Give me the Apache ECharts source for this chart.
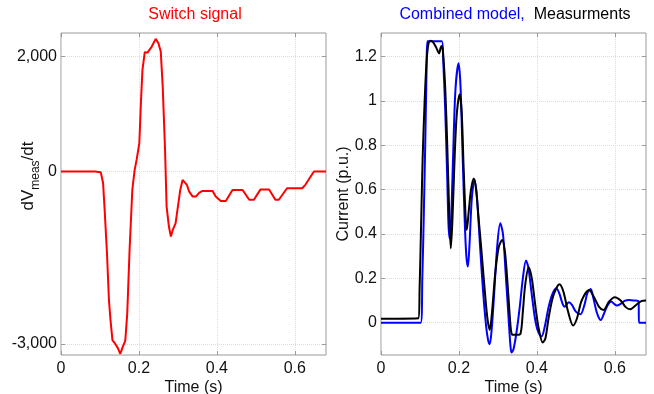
<!DOCTYPE html>
<html>
<head>
<meta charset="utf-8">
<script src="https://cdn.jsdelivr.net/npm/echarts@6/dist/echarts.min.js"></script>
<style>
html, body { margin: 0; padding: 0; background: #fff; }
#main { width: 654px; height: 394px; }
</style>
</head>
<body>
<div id="main"></div>
<script>
// tick values
var timeTicks = [0, 0.2, 0.4, 0.6];
var dvTicks = [-3000, 0, 2000];
var currentTicks = [0, 0.2, 0.4, 0.6, 0.8, 1, 1.2];

// switch signal dV/dt  [t, value]
var switchSignal = [
	[0, 0], [0.087, 0], [0.092, -10], [0.102, -12], [0.108, -200], [0.112, -667], [0.118, -1420],
	[0.123, -2230], [0.127, -2580], [0.132, -2930], [0.138, -2985], [0.146, -3070], [0.152, -3170],
	[0.159, -3040], [0.165, -2940], [0.17, -2465], [0.176, -1360], [0.183, -320], [0.189, 30],
	[0.194, 203], [0.201, 494], [0.205, 1190], [0.209, 1770], [0.215, 2076], [0.218, 2087],
	[0.222, 2070], [0.226, 2059], [0.233, 2174], [0.243, 2308], [0.25, 2230], [0.256, 2087],
	[0.261, 1480], [0.267, 380], [0.271, -610], [0.277, -960], [0.282, -1130], [0.287, -1010],
	[0.294, -900], [0.3, -610], [0.306, -320], [0.312, -145], [0.317, -145], [0.323, -230],
	[0.329, -350], [0.338, -435], [0.346, -435], [0.355, -365], [0.363, -336], [0.389, -336],
	[0.397, -435], [0.41, -510], [0.423, -510], [0.44, -320], [0.466, -320], [0.483, -490],
	[0.495, -490], [0.512, -310], [0.534, -310], [0.55, -490], [0.559, -490], [0.58, -290],
	[0.619, -290], [0.627, -230], [0.649, 0], [0.68, 0]
];

// combined model current (p.u.)
var modelCurrent = [
	[0, 0], [0.102, 0], [0.106, 0.2], [0.11, 0.5], [0.114, 0.85], [0.117, 1.15], [0.119, 1.27],
	[0.156, 1.27], [0.16, 1.17], [0.165, 0.95], [0.17, 0.65], [0.173, 0.45], [0.176, 0.38],
	[0.18, 0.47], [0.185, 0.75], [0.191, 1.05], [0.199, 1.17], [0.204, 1.07], [0.209, 0.78],
	[0.215, 0.45], [0.219, 0.3], [0.223, 0.253], [0.227, 0.35], [0.233, 0.56], [0.24, 0.645],
	[0.246, 0.57], [0.254, 0.35], [0.262, 0.14], [0.27, -0.02], [0.275, -0.08], [0.279, -0.097],
	[0.284, -0.03], [0.29, 0.12], [0.298, 0.34], [0.306, 0.448], [0.313, 0.4], [0.32, 0.22],
	[0.327, 0.03], [0.332, -0.1], [0.335, -0.135], [0.34, -0.12], [0.348, -0.04], [0.356, 0.07],
	[0.364, 0.2], [0.372, 0.28], [0.378, 0.25], [0.386, 0.14], [0.395, 0.02], [0.403, -0.04],
	[0.412, -0.063], [0.42, -0.02], [0.43, 0.07], [0.44, 0.13], [0.45, 0.155], [0.458, 0.13],
	[0.465, 0.09], [0.471, 0.072], [0.482, 0.092], [0.49, 0.08], [0.5, 0.05], [0.512, 0.038],
	[0.522, 0.08], [0.53, 0.135], [0.538, 0.152], [0.545, 0.11], [0.553, 0.05], [0.56, 0.018],
	[0.564, 0.012], [0.572, 0.04], [0.582, 0.08], [0.591, 0.095], [0.598, 0.085], [0.605, 0.077],
	[0.615, 0.085], [0.625, 0.098], [0.637, 0.102], [0.648, 0.1], [0.661, 0.096], [0.662, 0],
	[0.68, 0]
];

// measured current (p.u.)
var measCurrent = [
	[0, 0.018], [0.096, 0.02], [0.099, 0.15], [0.103, 0.45], [0.107, 0.75], [0.112, 1.0],
	[0.117, 1.18], [0.122, 1.26], [0.127, 1.272], [0.134, 1.265], [0.142, 1.24], [0.149, 1.215],
	[0.153, 1.24], [0.156, 1.248], [0.16, 1.2], [0.165, 1.05], [0.17, 0.8], [0.175, 0.5],
	[0.179, 0.335], [0.183, 0.45], [0.188, 0.7], [0.194, 0.93], [0.2015, 1.03], [0.207, 0.95],
	[0.212, 0.7], [0.217, 0.48], [0.22, 0.418], [0.225, 0.5], [0.231, 0.6], [0.238, 0.651],
	[0.244, 0.6], [0.25, 0.48], [0.258, 0.32], [0.266, 0.15], [0.273, 0.02], [0.279, -0.033],
	[0.285, 0.05], [0.293, 0.22], [0.302, 0.34], [0.311, 0.373], [0.318, 0.32], [0.325, 0.17],
	[0.33, 0.04], [0.334, -0.04], [0.338, -0.055], [0.348, -0.055], [0.358, -0.05], [0.364, 0.05],
	[0.37, 0.17], [0.379, 0.25], [0.387, 0.2], [0.395, 0.09], [0.404, -0.02], [0.415, -0.09],
	[0.422, -0.07], [0.43, 0.02], [0.442, 0.12], [0.458, 0.173], [0.468, 0.14], [0.48, 0.05],
	[0.493, -0.013], [0.503, 0.02], [0.515, 0.1], [0.534, 0.147], [0.548, 0.11], [0.56, 0.07],
	[0.571, 0.057], [0.585, 0.095], [0.6, 0.115], [0.615, 0.1], [0.628, 0.07], [0.639, 0.06],
	[0.655, 0.08], [0.668, 0.097], [0.68, 0.1]
];

var font = 'Liberation Sans, Arial, sans-serif';
var boxColor = '#9a9a9a';
var gridLine = { show: true, lineStyle: { color: '#dcdcdc', type: 'dotted', width: 1 } };

function thousands(v) {
	var s = String(Math.abs(v)).replace(/\B(?=(\d{3})+(?!\d))/g, ',');
	return (v < 0 ? '-' : '') + s;
}

function xAxisOf(grid, top) {
	return {
		type: 'value', gridIndex: grid, position: top ? 'top' : 'bottom',
		min: 0, max: 0.68,
		axisLine: { show: false, onZero: false },
		axisTick: { show: true, inside: true, length: 4, customValues: timeTicks, lineStyle: { color: boxColor } },
		axisLabel: { show: !top, customValues: timeTicks, margin: 6, fontSize: 16, color: '#111', fontFamily: font },
		splitLine: top ? { show: false } : gridLine,
		name: top ? '' : 'Time (s)', nameLocation: 'middle', nameGap: 25, nameMoveOverlap: false,
		nameTextStyle: { fontSize: 16, color: '#111', fontFamily: font }
	};
}

function yAxisOf(grid, right, min, max, ticks, fmt) {
	return {
		type: 'value', gridIndex: grid, position: right ? 'right' : 'left',
		min: min, max: max,
		axisLine: { show: false, onZero: false },
		axisTick: { show: true, inside: true, length: 4, customValues: ticks, lineStyle: { color: boxColor } },
		axisLabel: { show: !right, customValues: ticks, margin: 4, fontSize: 16, color: '#111', fontFamily: font, formatter: fmt },
		splitLine: right ? { show: false } : gridLine
	};
}

var chart = echarts.init(document.getElementById('main'));
var yCur = yAxisOf(1, false, -0.146, 1.307, currentTicks);
yCur.name = 'Current (p.u.)';
yCur.nameLocation = 'middle';
yCur.nameGap = 29;
yCur.nameMoveOverlap = false;
yCur.nameTextStyle = { fontSize: 16, color: '#111', fontFamily: font };

chart.setOption({
	animation: false,
	title: [{
		text: 'Switch signal', left: 195, top: 7, textAlign: 'center', padding: 0,
		textStyle: { color: '#ff0000', fontSize: 16, fontWeight: 'normal', fontFamily: font }
	}, {
		text: '{b|Combined model,}  {k|Measurments}', left: 515, top: 7, textAlign: 'center', padding: 0,
		textStyle: {
			fontSize: 16, fontWeight: 'normal', fontFamily: font,
			rich: {
				b: { color: '#0000ff', fontSize: 16, fontFamily: font },
				k: { color: '#000', fontSize: 16, fontFamily: font }
			}
		}
	}],
	graphic: [{
		type: 'text', x: 36, y: 176, rotation: Math.PI / 2,
		style: {
			text: '{a|dV}{s|meas}{a|/dt}', align: 'center', verticalAlign: 'middle',
			fill: '#111', font: '17px ' + font,
			rich: {
				a: { fontSize: 17, fontFamily: font, lineHeight: 19, verticalAlign: 'top', fill: '#111' },
				s: { fontSize: 12, fontFamily: font, lineHeight: 32, verticalAlign: 'middle', fill: '#111' }
			}
		}
	}],
	grid: [
		{ left: 61, top: 33, width: 265, height: 322, show: true, borderColor: boxColor, borderWidth: 1, outerBoundsMode: 'none' },
		{ left: 381, top: 33, width: 265, height: 322, show: true, borderColor: boxColor, borderWidth: 1, outerBoundsMode: 'none' }
	],
	xAxis: [xAxisOf(0, false), xAxisOf(0, true), xAxisOf(1, false), xAxisOf(1, true)],
	yAxis: [
		yAxisOf(0, false, -3190, 2410, dvTicks, thousands),
		yAxisOf(0, true, -3190, 2410, dvTicks),
		yCur,
		yAxisOf(1, true, -0.146, 1.307, currentTicks)
	],
	series: [{
		name: 'Switch signal', type: 'line', xAxisIndex: 0, yAxisIndex: 0,
		data: switchSignal, showSymbol: false,
		lineStyle: { color: '#ff0000', width: 2 }, itemStyle: { color: '#ff0000' }
	}, {
		name: 'Combined model', type: 'line', xAxisIndex: 2, yAxisIndex: 2,
		data: modelCurrent, showSymbol: false, smooth: 0.3,
		lineStyle: { color: '#0000ff', width: 2 }, itemStyle: { color: '#0000ff' }
	}, {
		name: 'Measurments', type: 'line', xAxisIndex: 2, yAxisIndex: 2,
		data: measCurrent, showSymbol: false, smooth: 0.3,
		lineStyle: { color: '#000', width: 2 }, itemStyle: { color: '#000' }
	}]
});
</script>
</body>
</html>
